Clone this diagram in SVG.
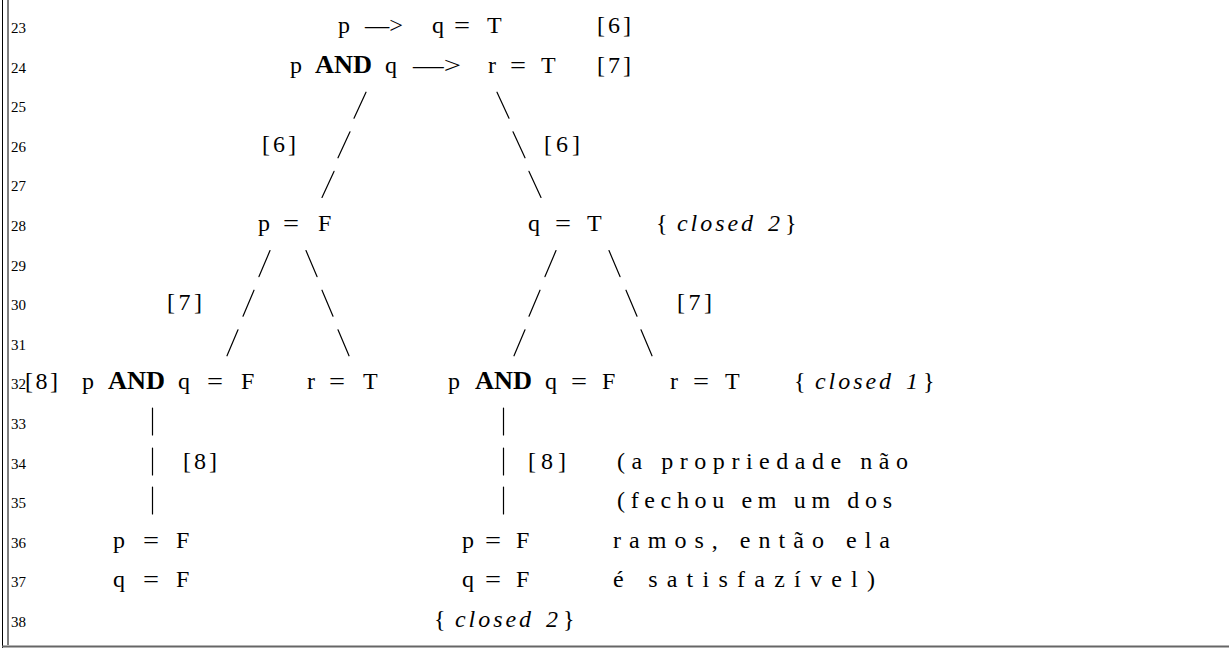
<svg xmlns="http://www.w3.org/2000/svg" width="1230" height="648" viewBox="0 0 1230 648">
<style>
text{font-family:"Liberation Serif","DejaVu Serif",serif;fill:#000}
.t{font-size:24px}
.ln{font-size:15px}
.b{font-size:26px;font-weight:bold}
.i{font-size:24px;font-style:italic}
.c line{stroke:#000;stroke-width:1.2;stroke-linecap:round}
.f{stroke:#000;stroke-width:1}
</style>
<rect width="1230" height="648" fill="#fff"/>
<g id="frame">
<line class="f" x1="2.5" y1="0" x2="2.5" y2="648"/>
<line class="f" x1="8" y1="0" x2="8" y2="645"/>
<line x1="2" y1="646.5" x2="1229" y2="646.5" stroke="#666" stroke-width="2"/>
</g>
<g id="linenumbers" class="ln">
<text x="11" y="33">23</text>
<text x="11" y="72.6">24</text>
<text x="11" y="112.2">25</text>
<text x="11" y="151.8">26</text>
<text x="11" y="191.4">27</text>
<text x="11" y="231">28</text>
<text x="11" y="270.6">29</text>
<text x="11" y="310.2">30</text>
<text x="11" y="349.8">31</text>
<text x="11" y="389.4">32</text>
<text x="11" y="429">33</text>
<text x="11" y="468.6">34</text>
<text x="11" y="508.2">35</text>
<text x="11" y="547.8">36</text>
<text x="11" y="587.4">37</text>
<text x="11" y="627">38</text>
</g>
<g id="connectors" class="c">
<line x1="366" y1="92.2" x2="354" y2="118.2"/>
<line x1="497" y1="92.2" x2="509" y2="118.2"/>
<line x1="350" y1="131.8" x2="338" y2="157.8"/>
<line x1="513" y1="131.8" x2="525" y2="157.8"/>
<line x1="334" y1="171.4" x2="322" y2="197.4"/>
<line x1="529" y1="171.4" x2="541" y2="197.4"/>
<line x1="270" y1="250.6" x2="259" y2="276.6"/>
<line x1="306" y1="250.6" x2="317" y2="276.6"/>
<line x1="556" y1="250.6" x2="545" y2="276.6"/>
<line x1="609" y1="250.6" x2="620" y2="276.6"/>
<line x1="254" y1="290.2" x2="243" y2="316.2"/>
<line x1="322" y1="290.2" x2="333" y2="316.2"/>
<line x1="540" y1="290.2" x2="529" y2="316.2"/>
<line x1="626" y1="290.2" x2="637" y2="316.2"/>
<line x1="238" y1="329.8" x2="227" y2="355.8"/>
<line x1="338" y1="329.8" x2="349" y2="355.8"/>
<line x1="525" y1="329.8" x2="514" y2="355.8"/>
<line x1="641" y1="329.8" x2="652" y2="355.8"/>
<line x1="152.5" y1="408" x2="152.5" y2="435"/>
<line x1="152.5" y1="448" x2="152.5" y2="475"/>
<line x1="152.5" y1="487" x2="152.5" y2="514"/>
<line x1="503.5" y1="408" x2="503.5" y2="435"/>
<line x1="503.5" y1="448" x2="503.5" y2="475"/>
<line x1="503.5" y1="487" x2="503.5" y2="514"/>
</g>
<g id="n-root1" class="t">
<text x="338" y="33">p</text>
<text x="365" y="33" textLength="38" lengthAdjust="spacingAndGlyphs">—&gt;</text>
<text x="432" y="33">q</text>
<text x="454" y="33" textLength="16" lengthAdjust="spacingAndGlyphs">=</text>
<text x="487" y="33">T</text>
<text x="597" y="33" textLength="34">[6]</text>
</g>
<g id="n-root2" class="t">
<text x="290" y="72.6">p</text>
<text class="b" x="315" y="72.6" textLength="57" lengthAdjust="spacingAndGlyphs">AND</text>
<text x="385" y="72.6">q</text>
<text x="413" y="72.6" textLength="48" lengthAdjust="spacingAndGlyphs">—&gt;</text>
<text x="488" y="72.6">r</text>
<text x="510" y="72.6" textLength="16" lengthAdjust="spacingAndGlyphs">=</text>
<text x="541" y="72.6">T</text>
<text x="597" y="72.6" textLength="34">[7]</text>
</g>
<g id="lbl-26" class="t">
<text x="262" y="151.8" textLength="34">[6]</text>
<text x="544" y="151.8" textLength="36">[6]</text>
</g>
<g id="n-pF" class="t">
<text x="258" y="231">p</text>
<text x="283" y="231" textLength="16" lengthAdjust="spacingAndGlyphs">=</text>
<text x="318" y="231">F</text>
</g>
<g id="n-qT" class="t">
<text x="528" y="231">q</text>
<text x="555" y="231" textLength="16" lengthAdjust="spacingAndGlyphs">=</text>
<text x="587" y="231">T</text>
<text x="656" y="231">{</text>
<text class="i" x="677" y="231" textLength="76">closed</text>
<text class="i" x="768" y="231">2</text>
<text x="785" y="231">}</text>
</g>
<g id="lbl-30" class="t">
<text x="167" y="310.2" textLength="35">[7]</text>
<text x="677" y="310.2" textLength="35">[7]</text>
</g>
<g id="n-left-and" class="t">
<text x="25" y="389.4" textLength="33">[8]</text>
<text x="82" y="389.4">p</text>
<text class="b" x="108" y="389.4" textLength="57" lengthAdjust="spacingAndGlyphs">AND</text>
<text x="178" y="389.4">q</text>
<text x="207" y="389.4" textLength="16" lengthAdjust="spacingAndGlyphs">=</text>
<text x="241" y="389.4">F</text>
</g>
<g id="n-left-r" class="t">
<text x="307" y="389.4">r</text>
<text x="329" y="389.4" textLength="16" lengthAdjust="spacingAndGlyphs">=</text>
<text x="363" y="389.4">T</text>
</g>
<g id="n-right-and" class="t">
<text x="448" y="389.4">p</text>
<text class="b" x="475" y="389.4" textLength="57" lengthAdjust="spacingAndGlyphs">AND</text>
<text x="545" y="389.4">q</text>
<text x="571" y="389.4" textLength="16" lengthAdjust="spacingAndGlyphs">=</text>
<text x="602" y="389.4">F</text>
</g>
<g id="n-right-r" class="t">
<text x="670" y="389.4">r</text>
<text x="693" y="389.4" textLength="16" lengthAdjust="spacingAndGlyphs">=</text>
<text x="725" y="389.4">T</text>
<text x="794" y="389.4">{</text>
<text class="i" x="815" y="389.4" textLength="76">closed</text>
<text class="i" x="906" y="389.4">1</text>
<text x="923" y="389.4">}</text>
</g>
<g id="lbl-34" class="t">
<text x="183" y="468.6" textLength="34">[8]</text>
<text x="528" y="468.6" textLength="38">[8]</text>
</g>
<g id="note" class="t">
<text x="617" y="468.6" textLength="291">(a propriedade não</text>
<text x="617" y="508.2" textLength="275">(fechou em um dos</text>
<text x="613" y="547.8" textLength="277">ramos, então ela</text>
<text x="613" y="587.4" textLength="262">é satisfazível)</text>
</g>
<g id="n-left-leaf" class="t">
<text x="113" y="547.8">p</text>
<text x="143" y="547.8" textLength="16" lengthAdjust="spacingAndGlyphs">=</text>
<text x="176" y="547.8">F</text>
<text x="113" y="587.4">q</text>
<text x="143" y="587.4" textLength="16" lengthAdjust="spacingAndGlyphs">=</text>
<text x="176" y="587.4">F</text>
</g>
<g id="n-right-leaf" class="t">
<text x="462" y="547.8">p</text>
<text x="485" y="547.8" textLength="16" lengthAdjust="spacingAndGlyphs">=</text>
<text x="516" y="547.8">F</text>
<text x="462" y="587.4">q</text>
<text x="485" y="587.4" textLength="16" lengthAdjust="spacingAndGlyphs">=</text>
<text x="516" y="587.4">F</text>
<text x="434" y="627">{</text>
<text class="i" x="455" y="627" textLength="76">closed</text>
<text class="i" x="546" y="627">2</text>
<text x="563" y="627">}</text>
</g>
</svg>
